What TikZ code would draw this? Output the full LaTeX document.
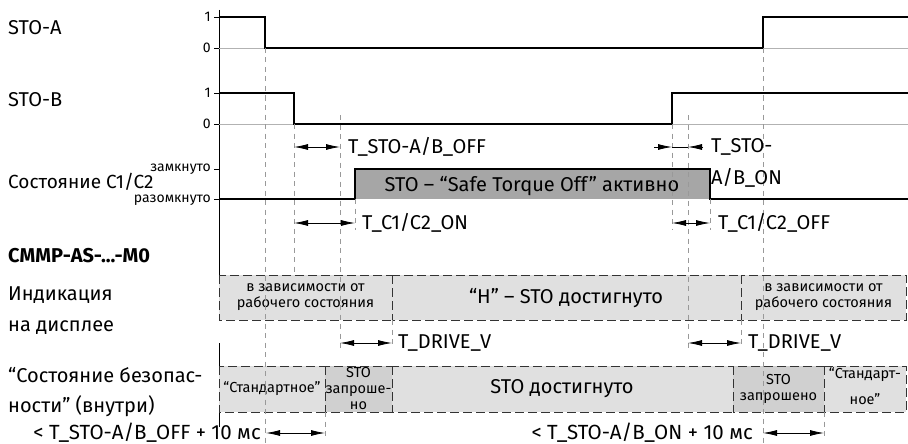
\documentclass[tikz,border=0pt]{standalone}
\usepackage{fontspec}
\setmainfont{Fira Sans}
\usetikzlibrary{arrows.meta, positioning, calc}

\newcommand{\szmain}{\fontsize{20}{24}\selectfont}
\newcommand{\szbox}{\fontsize{14.5}{16}\selectfont}
\newcommand{\sztick}{\fontsize{14}{16}\selectfont}

\tikzset{
  sig/.style={line width=1.8pt, line join=miter},
  zero/.style={gray!60, line width=0.6pt},
  guide/.style={gray!80, dash pattern=on 5pt off 4.5pt, line width=0.6pt},
  phase/.style={draw=black!80, dash pattern=on 9pt off 4pt, line width=0.7pt, fill=gray!24},
  phasedark/.style={phase, fill=gray!37},
  tip/.style={line width=0.8pt},
  span/.style={tip, {Latex[length=14pt,width=6pt]}-{Latex[length=14pt,width=6pt]}},
  lbl/.style={font=\szmain, anchor=west, inner sep=0pt},
  boxtxt/.style={font=\szbox, align=center, inner sep=0pt},
  ticklbl/.style={font=\sztick, anchor=east, inner sep=0pt}
}

\begin{document}
\begin{tikzpicture}[x=1pt, y=-1pt]
  \useasboundingbox (0,0) rectangle (908,444);

  % Row labels
  \node[lbl] (rowA) at (8,28) {STO-A};
  \node[lbl] (rowB) at (8,100) {STO-B};
  \node[lbl, font=\fontsize{19}{23}\selectfont] (rowC) at (8,182) {Состояние C1/C2};
  \node[lbl, font=\szmain\bfseries] (rowDev) at (8,256) {CMMP-AS-...-M0};
  \node[lbl, align=left, font=\fontsize{20}{31}\selectfont] (rowDisp) at (8,311) {Индикация\\на дисплее};
  \node[lbl, align=left, font=\fontsize{20}{30}\selectfont] (rowSafe) at (8,392) {“Состояние безопас-\\ности” (внутри)};

  % Axis and ticks
  \draw[line width=0.8pt] (219,10) -- (219,275) (219,343) -- (219,427);
  \foreach \y/\t in {17/1, 48/0, 93/1, 124/0}
    \draw (214,\y) -- (219,\y) node[ticklbl, at start, xshift=-3pt] {\t};
  \draw (214,169) -- (219,169) node[ticklbl, at start, xshift=-3pt] (closed) {замкнуто};
  \draw (214,199) -- (219,199) node[ticklbl, at start, xshift=-3pt, yshift=-1pt] (open) {разомкнуто};

  % Zero levels
  \draw[zero] (219,48) -- (908,48);
  \draw[zero] (219,124) -- (908,124);

  % Signals
  \draw[sig] (219,17) -- (265,17) -- (265,48) -- (763,48) -- (763,17) -- (908,17);
  \draw[sig] (219,93) -- (294,93) -- (294,124) -- (672,124) -- (672,93) -- (908,93);
  \fill[gray!70] (355,169) rectangle (710,199);
  \draw[sig] (219,199) -- (355,199) -- (355,169) -- (710,169) -- (710,199) -- (908,199);
  \node[font=\szmain, inner sep=0pt] (stoOn) at (532,186) {STO – “Safe Torque Off” активно};

  % Display
  \draw[phase] (219,275) rectangle (392,320);
  \node[boxtxt] (disp1) at (305.5,297) {в зависимости от\\рабочего состояния};
  \draw[phase] (392,275) rectangle (741,320);
  \node[font=\szmain, inner sep=0pt] (disp2) at (566,298) {“H” – STO достигнуто};
  \draw[phase] (741,275) rectangle (906,320);
  \node[boxtxt] (disp3) at (823.5,297) {в зависимости от\\рабочего состояния};

  % Safety state
  \draw[phase] (219,366) rectangle (325,412);
  \node[boxtxt] (safe1) at (272,389) {“Стандартное”};
  \draw[phasedark] (325,366) rectangle (392,412);
  \node[boxtxt] (safe2) at (358.5,389) {STO\\запроше-\\но};
  \draw[phase] (392,366) rectangle (733,412);
  \node[font=\szmain, inner sep=0pt] (safe3) at (562,389) {STO достигнуто};
  \draw[phasedark] (733,366) rectangle (824,412);
  \node[boxtxt] (safe4) at (778.5,389) {STO\\запрошено};
  \draw[phase] (824,366) rectangle (906,412);
  \node[boxtxt, font=\fontsize{14.5}{26}\selectfont] (safe5) at (865,386) {“Стандарт-\\ное”};

  % Guide lines
  \foreach \x/\ya/\yb in {265/48/444, 294/124/275, 340/115/350, 355/199/230, 325/412/440,
      392/320/347, 672/124/230, 688/115/350, 710/199/230, 741/320/347, 763/48/444, 824/412/440}
    \draw[guide] (\x,\ya) -- (\x,\yb);

  % Timings
  \draw[span] (294,147) -- (340,147);
  \node[lbl] (tOff) at (348,147) {T\_STO-A/B\_OFF};
  \draw[span] (294,223) -- (355,223);
  \node[lbl] (tOn) at (362,223) {T\_C1/C2\_ON};
  \draw[tip, -{Latex[length=14pt,width=6pt]}] (654,147) -- (672,147);
  \draw[tip, -{Latex[length=14pt,width=6pt]}] (703,147) -- (688,147);
  \draw[tip] (672,147) -- (688,147);
  \node[lbl] (tStoOn1) at (711,147) {T\_STO-};
  \node[lbl] (tStoOn2) at (711,178) {A/B\_ON};
  \draw[span] (672,223) -- (710,223);
  \node[lbl] (tOffC) at (718,223) {T\_C1/C2\_OFF};
  \draw[span] (340,343) -- (392,343);
  \node[lbl] (tDrv1) at (398,343) {T\_DRIVE\_V};
  \draw[span] (688,343) -- (741,343);
  \node[lbl] (tDrv2) at (748,343) {T\_DRIVE\_V};
  \draw[span] (266,433) -- (325,433);
  \node[lbl, anchor=east, font=\fontsize{20.5}{24}\selectfont] (tSafe1) at (261,433) {< T\_STO-A/B\_OFF + 10 мс};
  \draw[span] (763,433) -- (824,433);
  \node[lbl, anchor=east, font=\fontsize{20.5}{24}\selectfont] (tSafe2) at (753,433) {< T\_STO-A/B\_ON + 10 мс};
\end{tikzpicture}
\end{document}
